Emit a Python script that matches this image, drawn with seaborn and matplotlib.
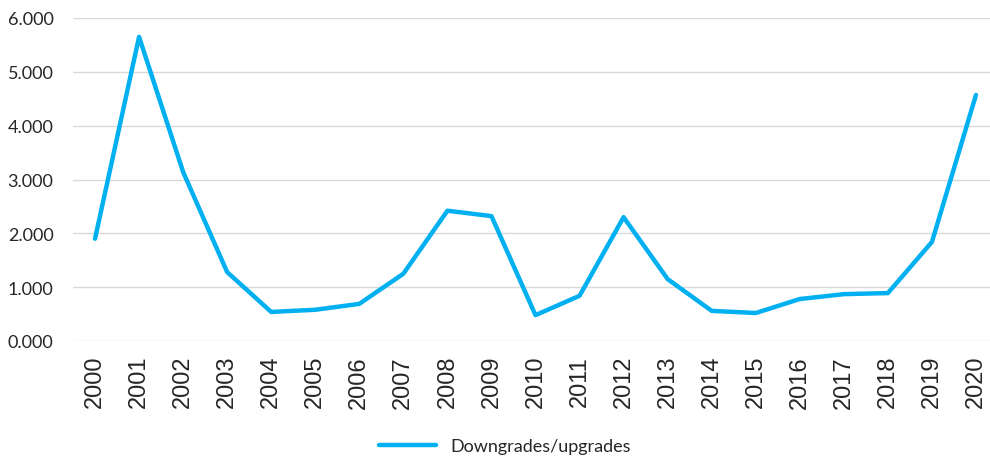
import matplotlib
matplotlib.use("Agg")
import matplotlib.pyplot as plt
import seaborn as sns
import pandas as pd

# Values
years = [str(y) for y in range(2000, 2021)]
ratio = [1.90, 5.65, 3.14, 1.28, 0.54, 0.58, 0.69, 1.25, 2.42, 2.32, 0.48,
         0.84, 2.30, 1.15, 0.56, 0.52, 0.78, 0.87, 0.89, 1.84, 4.57]
y_ticks = [0, 1, 2, 3, 4, 5, 6]
series_name = "Downgrades/upgrades"

df = pd.DataFrame({"year": years, "value": ratio})
df["pos"] = range(len(df))

sns.set_theme(style="white")
plt.rcParams["font.family"] = ["Lato", "DejaVu Sans"]

fig = plt.figure(figsize=(9.9, 4.6), dpi=100)
ax = fig.add_axes([73 / 990, 118 / 460, 925 / 990, 323 / 460])

sns.lineplot(data=df, x="pos", y="value", ax=ax, color="#00B0F0",
             linewidth=3.2, label=series_name, solid_capstyle="round")

ax.set_xlim(-0.5, 20.5)
ax.set_ylim(0, 6)
ax.set_yticks(y_ticks)
ax.set_yticklabels([f"{v:.3f}" for v in y_ticks], fontsize=13, color="#262626")
ax.set_xticks(df["pos"])
ax.set_xticklabels(years, rotation=90, fontsize=17, color="#262626",
                   family=["Liberation Sans", "DejaVu Sans"])
ax.tick_params(axis="y", length=0, pad=14)
ax.tick_params(axis="x", length=0, pad=10)
ax.grid(axis="y", color="#D9D9D9", linewidth=1)
ax.set_axisbelow(True)
for s in ax.spines.values():
    s.set_visible(False)
ax.set_xlabel("")
ax.set_ylabel("")

leg = ax.legend(loc="center", bbox_to_anchor=(505 / 990, 13 / 460),
                bbox_transform=fig.transFigure, frameon=False, fontsize=13,
                handlelength=3.2)
for t in leg.get_texts():
    t.set_color("#262626")

fig.savefig("out.png", dpi=100)
